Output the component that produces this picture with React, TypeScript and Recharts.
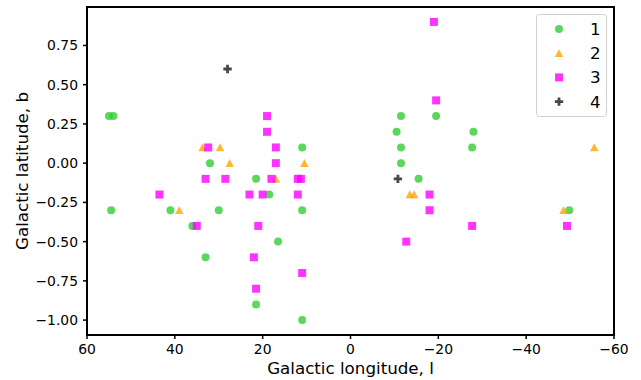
import React from 'react';
import { ScatterChart, Scatter, XAxis, YAxis, ReferenceArea } from 'recharts';

type Pt = [number, number]; // [galactic longitude l, galactic latitude b]

const group1: Pt[] = [
  [55, 0.3], [54, 0.3], [54.5, -0.3], [41, -0.3], [36, -0.4], [33, -0.6],
  [32, 0], [30, -0.3], [21.5, -0.1], [21.5, -0.9], [18.5, -0.2], [16.5, -0.5],
  [11, 0.1], [11, -0.3], [11, -1.0], [-10.5, 0.2], [-11.5, 0.3], [-11.5, 0.1],
  [-11.5, 0], [-15.5, -0.1], [-19.5, 0.3], [-28, 0.2], [-27.7, 0.1], [-49.8, -0.3],
];

const group2: Pt[] = [
  [33.7, 0.1], [29.7, 0.1], [27.5, 0], [39, -0.3], [17, -0.1], [10.5, 0],
  [-13.5, -0.2], [-14.5, -0.2], [-48.5, -0.3], [-55.5, 0.1],
];

const group3: Pt[] = [
  [32.4, 0.1], [33, -0.1], [28.5, -0.1], [43.5, -0.2], [35, -0.4], [19, 0.3],
  [19, 0.2], [17, 0.1], [17, 0], [18, -0.1], [23, -0.2], [20, -0.2],
  [21, -0.4], [22, -0.6], [21.5, -0.8], [12, -0.1], [11.3, -0.1], [12, -0.2],
  [11, -0.7], [-19, 0.9], [-19.5, 0.4], [-18, -0.2], [-18, -0.3], [-12.7, -0.5],
  [-27.7, -0.4], [-49.3, -0.4],
];

const group4: Pt[] = [[28, 0.6], [-10.8, -0.1]];

const lonTicks = [60, 40, 20, 0, -20, -40, -60];
const latTicks = [-1, -0.75, -0.5, -0.25, 0, 0.25, 0.5, 0.75];

const SERIES = [
  { name: '1', points: group1, color: '#32cd32', kind: 'circle' },
  { name: '2', points: group2, color: '#ffa500', kind: 'triangle' },
  { name: '3', points: group3, color: '#ff00ff', kind: 'square' },
  { name: '4', points: group4, color: '#000000', kind: 'plus' },
];

const FONT = '"DejaVu Sans", sans-serif';
const minus = (s: string) => s.replace('-', '\u2212');

function Marker({ cx, cy, kind, color }: { cx: number; cy: number; kind: string; color: string }) {
  const op = kind === 'plus' ? 0.72 : 0.8;
  if (kind === 'circle') return <circle cx={cx} cy={cy} r={4} fill={color} fillOpacity={op} />;
  if (kind === 'triangle')
    return (
      <polygon
        points={`${cx},${cy - 4.2} ${cx + 4.2},${cy + 3.8} ${cx - 4.2},${cy + 3.8}`}
        fill={color}
        fillOpacity={op}
      />
    );
  if (kind === 'square') return <rect x={cx - 4} y={cy - 4} width={8} height={8} fill={color} fillOpacity={op} />;
  const a = 1.4;
  const r = 4.2;
  const d = `M${cx - a},${cy - r}H${cx + a}V${cy - a}H${cx + r}V${cy + a}H${cx + a}V${cy + r}H${cx - a}V${cy + a}H${cx - r}V${cy - a}H${cx - a}Z`;
  return <path d={d} fill={color} fillOpacity={op} />;
}

export default function App() {
  return (
    <div style={{ position: 'absolute', left: 0, top: 0, width: 641, height: 380, background: '#fff' }}>
      <ScatterChart width={641} height={380} margin={{ top: 7, right: 27, left: 0, bottom: 0 }}>
        <XAxis
          type="number"
          dataKey="l"
          domain={[-60, 60]}
          reversed
          ticks={lonTicks}
          allowDataOverflow
          height={45}
          stroke="#000"
          axisLine={{ strokeWidth: 2 }}
          tickLine={{ strokeWidth: 1.5 }}
          tickSize={4}
          tickMargin={5}
          tick={{ fill: '#000', fontSize: 13.9, fontFamily: FONT }}
          tickFormatter={(v: number) => minus(String(v))}
          label={{
            content: () => (
              <text x={350.5} y={374} textAnchor="middle" fontSize={16.7} fontFamily={FONT} fill="#000">
                Galactic longitude, l
              </text>
            ),
          }}
        />
        <YAxis
          type="number"
          dataKey="b"
          domain={[-1.095, 0.995]}
          ticks={latTicks}
          allowDataOverflow
          width={87}
          stroke="#000"
          axisLine={{ strokeWidth: 2 }}
          tickLine={{ strokeWidth: 1.5 }}
          tickSize={4}
          tickMargin={5}
          tick={{ fill: '#000', fontSize: 13.9, fontFamily: FONT }}
          tickFormatter={(v: number) => minus(v.toFixed(2))}
          label={{
            content: () => (
              <text
                x={27.5}
                y={171}
                transform="rotate(-90 27.5 171)"
                textAnchor="middle"
                fontSize={16.7}
                fontFamily={FONT}
                fill="#000"
              >
                Galactic latitude, b
              </text>
            ),
          }}
        />
        <ReferenceArea x1={60} x2={-60} y1={-1.095} y2={0.995} fill="none" stroke="#000" strokeWidth={2} />
        {SERIES.map((s) => (
          <Scatter
            key={s.name}
            name={s.name}
            data={s.points.map(([l, b]) => ({ l, b }))}
            isAnimationActive={false}
            shape={(p: any) => <Marker cx={p.cx} cy={p.cy} kind={s.kind} color={s.color} />}
          />
        ))}
      </ScatterChart>
      <svg width={72} height={104} style={{ position: 'absolute', left: 536, top: 14 }}>
        <rect x={0.5} y={0.5} width={70} height={102} rx={3} fill="#fff" fillOpacity={0.8} stroke="#d0d0d0" />
        {SERIES.map((s, i) => (
          <g key={s.name}>
            <Marker cx={23} cy={15 + i * 24.2} kind={s.kind} color={s.color} />
            <text x={54} y={21 + i * 24.2} fontSize={16.7} fontFamily={FONT} fill="#000">
              {s.name}
            </text>
          </g>
        ))}
      </svg>
    </div>
  );
}
